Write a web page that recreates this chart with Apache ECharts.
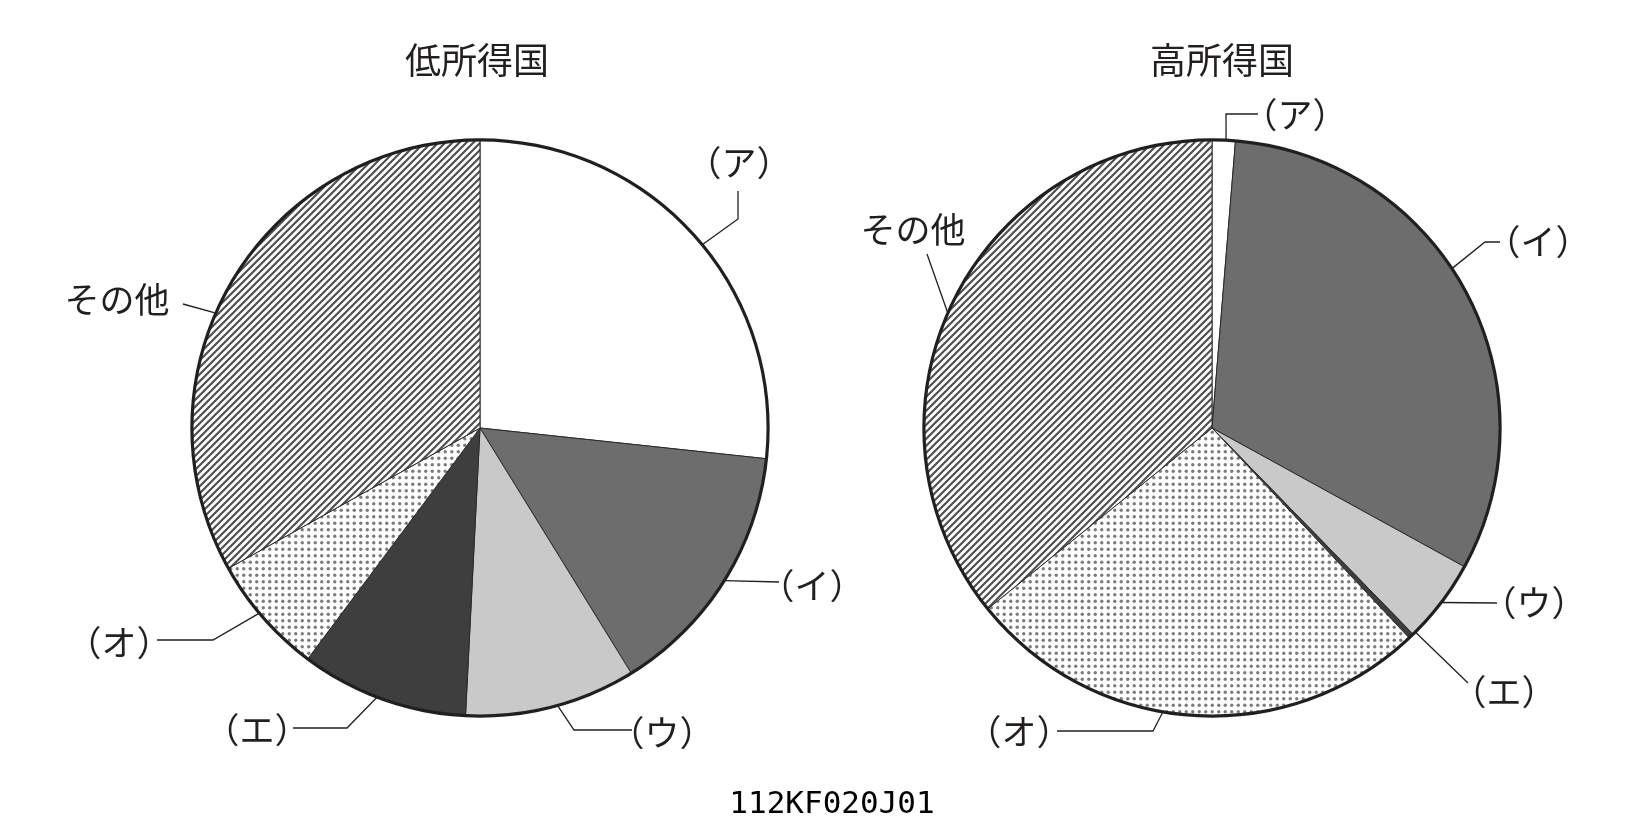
<!DOCTYPE html>
<html>
<head>
<meta charset="utf-8">
<script src="https://cdn.jsdelivr.net/npm/echarts@6/dist/echarts.min.js"></script>
<style>
html,body{margin:0;padding:0;background:#fff;}
#chart{width:1651px;height:833px;}
</style>
</head>
<body>
<div id="chart"></div>
<script>
// ---- data ----
const categories = ['（ア）', '（イ）', '（ウ）', '（エ）', '（オ）', 'その他'];
const lowIncome  = [26.7, 14.5, 9.6, 9.4, 6.7, 33.1];
const highIncome = [1.3, 31.7, 4.7, 0.3, 26.2, 35.8];
const titles = ['低所得国', '高所得国'];
const footer = '112KF020J01';

// ---- style / layout ----
const INK = '#231f20';
const JP = '"Noto Sans CJK JP", "Noto Sans", sans-serif';
const PIES = [
  {cx: 480, cy: 428, r: 288, titleX: 477},
  {cx: 1212, cy: 428, r: 288, titleX: 1222}
];
// leader line: start angle on circle (deg clockwise from top), extra points, label centre
const LEADERS = [
  [
    {a: 50.5,  pts: [[738, 219], [738, 191]], lx: 739, ly: 163},
    {a: 122,   pts: [[779, 582]],             lx: 812, ly: 586},
    {a: 164.4, pts: [[574, 730], [632, 730]], lx: 662, ly: 733},
    {a: 200.9, pts: [[347, 728], [293, 728]], lx: 257, ly: 730},
    {a: 230,   pts: [[213, 640], [157, 640]], lx: 119, ly: 643},
    {a: 293.5, pts: [[183, 304]],             lx: 117, ly: 300}
  ],
  [
    {a: 2.8,   pts: [[1226, 114], [1258, 114]], lx: 1295, ly: 115},
    {a: 56.4,  pts: [[1485, 242], [1500, 242]], lx: 1538, ly: 242},
    {a: 127.3, pts: [[1497, 603]],              lx: 1534, ly: 603},
    {a: 135.1, pts: [[1468, 683]],              lx: 1504, ly: 692},
    {a: 189.8, pts: [[1153, 731], [1057, 731]], lx: 1019, ly: 732},
    {a: 293.5, pts: [[927, 254]],               lx: 913,  ly: 230}
  ]
];

function hatchPattern() {
  const s = 7, c = document.createElement('canvas');
  c.width = s; c.height = s;
  const g = c.getContext('2d');
  g.fillStyle = '#ffffff'; g.fillRect(0, 0, s, s);
  g.strokeStyle = '#505050'; g.lineWidth = 2.2;
  g.beginPath();
  g.moveTo(-1, s + 1); g.lineTo(s + 1, -1);
  g.moveTo(-s / 2 - 1, s / 2 + 1); g.lineTo(s / 2 + 1, -s / 2 - 1);
  g.moveTo(s / 2 - 1, s * 1.5 + 1); g.lineTo(s * 1.5 + 1, s / 2 - 1);
  g.stroke();
  return {image: c, repeat: 'repeat'};
}
function dotPattern() {
  const s = 13, c = document.createElement('canvas');
  c.width = s; c.height = s;
  const g = c.getContext('2d');
  g.fillStyle = '#ffffff'; g.fillRect(0, 0, s, s);
  g.fillStyle = '#7c7c7c';
  [[3.25, 3.25], [9.75, 3.25], [3.25, 9.75], [9.75, 9.75]].forEach(p => {
    g.beginPath(); g.arc(p[0], p[1], 1.7, 0, Math.PI * 2); g.fill();
  });
  return {image: c, repeat: 'repeat'};
}
const FILLS = ['#ffffff', '#6d6d6d', '#c9c9c9', '#3e3e3e', dotPattern(), hatchPattern()];

function buildData(values) {
  return categories.map((name, i) => ({
    name: name, value: values[i], itemStyle: {color: FILLS[i]}
  }));
}

function pieSeries(k, values) {
  const P = PIES[k];
  return {
    type: 'pie',
    center: [P.cx, P.cy],
    radius: P.r,
    startAngle: 90,
    clockwise: true,
    avoidLabelOverlap: false,
    animation: false,
    silent: true,
    itemStyle: {borderColor: '#2a2a2a', borderWidth: 1},
    label: {
      show: true, position: 'outside', formatter: '{b}',
      fontFamily: JP, fontSize: 35, color: INK
    },
    labelLine: {show: true, lineStyle: {color: INK, width: 1.3}},
    labelLayout: function (params) {
      const L = LEADERS[k][params.dataIndex];
      const t = L.a * Math.PI / 180;
      const start = [P.cx + P.r * Math.sin(t), P.cy - P.r * Math.cos(t)];
      return {
        x: L.lx, y: L.ly, align: 'center', verticalAlign: 'middle',
        labelLinePoints: [start].concat(L.pts)
      };
    },
    data: buildData(values)
  };
}

function ringSeries(k) {
  const P = PIES[k];
  return {
    type: 'pie', center: [P.cx, P.cy], radius: [P.r - 1.5, P.r + 1.7],
    silent: true, animation: false, label: {show: false}, labelLine: {show: false},
    itemStyle: {color: INK, borderWidth: 0},
    data: [{value: 1, name: 'outline'}], z: 5
  };
}

const chart = echarts.init(document.getElementById('chart'), null, {renderer: 'canvas'});
chart.setOption({
  backgroundColor: '#ffffff',
  animation: false,
  series: [pieSeries(0, lowIncome), pieSeries(1, highIncome), ringSeries(0), ringSeries(1)],
  graphic: [
    {type: 'text', x: PIES[0].titleX, y: 60, style: {text: titles[0], fill: INK, font: '36px ' + JP, align: 'center', verticalAlign: 'middle'}},
    {type: 'text', x: PIES[1].titleX, y: 60, style: {text: titles[1], fill: INK, font: '36px ' + JP, align: 'center', verticalAlign: 'middle'}},
    {type: 'text', x: 832, y: 805, style: {text: footer, fill: '#000', font: '31px "DejaVu Sans Mono", monospace', align: 'center', verticalAlign: 'middle'}}
  ]
});
</script>
</body>
</html>
